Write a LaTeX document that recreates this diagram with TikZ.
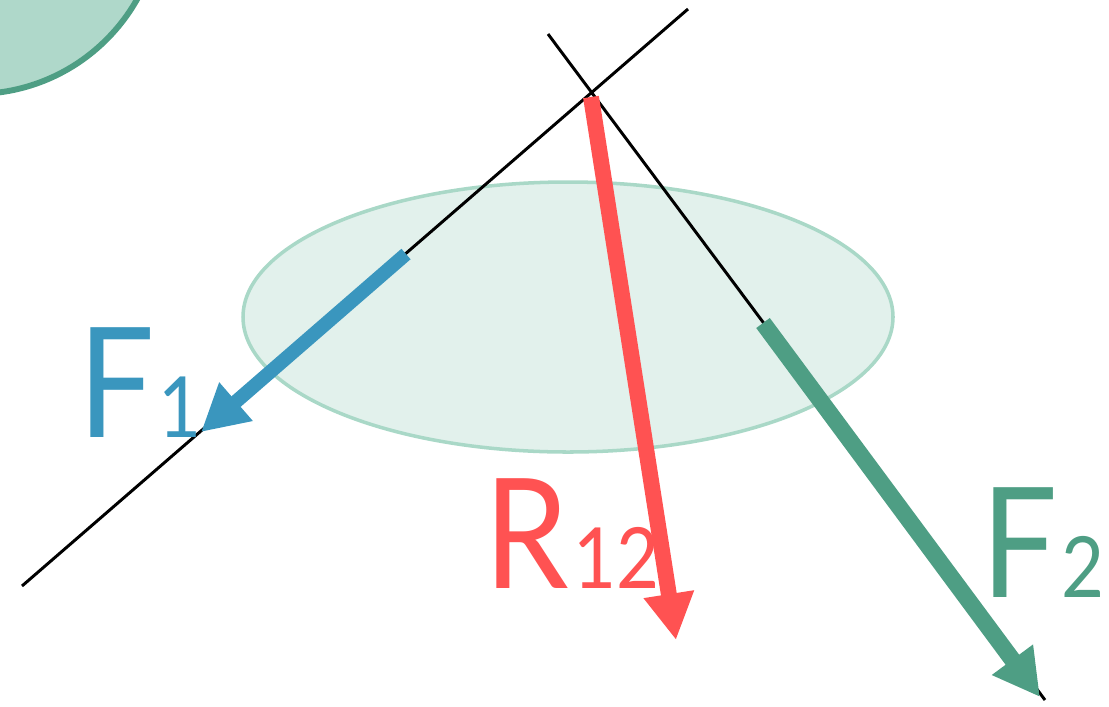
\documentclass[tikz,border=0pt]{standalone}
\definecolor{ForceBlue} {HTML}{3A96BE}
\definecolor{ForceRed}  {HTML}{FF5252}
\definecolor{ForceGreen}{HTML}{4E9E84}
\definecolor{BodyFill}  {HTML}{E2F1EC}
\definecolor{BodyEdge}  {HTML}{A9D8C7}
\definecolor{BallFill}  {HTML}{AFD8CA}
\usepackage{fontspec}
\setmainfont{Lato}
\newfontfamily\forcefont[FakeStretch=0.88]{Lato}
\usetikzlibrary{arrows.meta}
\newcommand{\subidx}[1]{\kern3pt{\fontsize{60}{65}\selectfont #1}}

\begin{document}
\begin{tikzpicture}[x=0.025cm,y=-0.025cm,
          every node/.style={inner sep=0pt,anchor=base west,
                             font=\forcefont\fontsize{109}{120}\selectfont},
          guide/.style={draw=black,line width=2.1pt},
          force/.style={line width=#1,
                        -{Triangle[length=33pt,width=34pt]}}]
        \useasboundingbox (0,0) rectangle (1109,706);
        \begin{scope}
          \clip (0,0) rectangle (1109,706);
          \filldraw[fill=BallFill,draw=ForceGreen,line width=4.2pt]
              (-25,-92) circle[radius=186];
        \end{scope}
        \filldraw[fill=BodyFill,draw=BodyEdge,line width=2.5pt]
            (568,317) ellipse[x radius=325,y radius=135];
        \coordinate (a1) at (22,586);   \coordinate (a2) at (688,9);
        \coordinate (b1) at (548,34);   \coordinate (b2) at (1045,700);
        \draw[guide] (a1)--(a2) (b1)--(b2);
        \coordinate (f1s) at (406,254); \coordinate (f1e) at (201,432);
        \coordinate (rs)  at (591,97);  \coordinate (re)  at (676,640);
        \coordinate (f2s) at (763,323); \coordinate (f2e) at (1040,697);
        \draw[force=9.9pt,draw=ForceBlue,fill=ForceBlue] (f1s)--(f1e);
        \draw[force=11.3pt,draw=ForceRed,fill=ForceRed] (rs)--(re);
        \draw[force=12pt,draw=ForceGreen,fill=ForceGreen] (f2s)--(f2e);
        \node[text=ForceBlue]  (lf1) at (78,437)  {F\subidx{1}};
        \node[text=ForceRed]   (lr)  at (484,588) {R\subidx{12}};
        \node[text=ForceGreen] (lf2) at (981,597) {F\subidx{2}};
      \end{tikzpicture}
\end{document}
